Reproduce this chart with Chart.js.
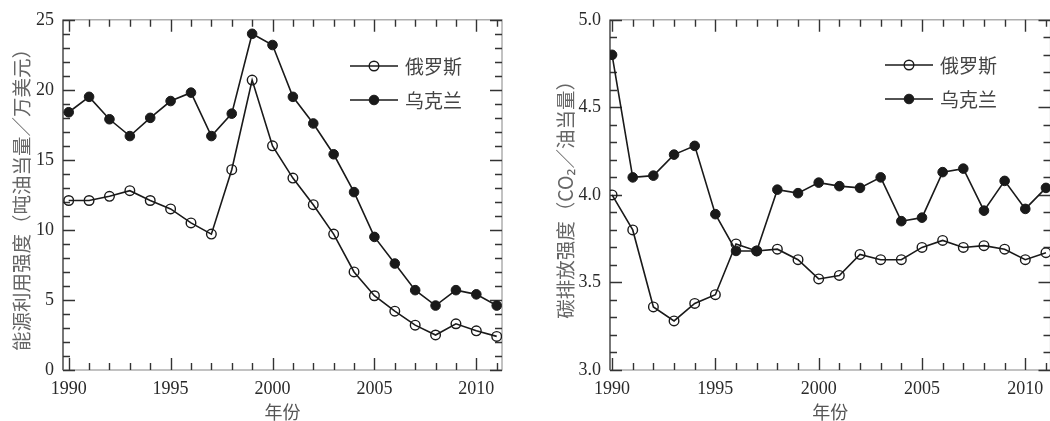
<!DOCTYPE html>
<html>
<head>
<meta charset="utf-8">
<script src="https://cdn.jsdelivr.net/npm/chart.js@4/dist/chart.umd.min.js"></script>
<style>
  html, body { margin: 0; padding: 0; background: #fff; overflow: hidden; width: 1050px; height: 421px; }
  #wrap { position: relative; width: 1050px; height: 421px; overflow: hidden; }
  .panel { position: absolute; top: 0; height: 421px; }
  #p1 { left: 0; width: 530px; }
  #p2 { left: 530px; width: 530px; }
</style>
</head>
<body>
<div id="wrap">
  <div class="panel" id="p1"><canvas id="c1" width="530" height="421"></canvas></div>
  <div class="panel" id="p2"><canvas id="c2" width="530" height="421"></canvas></div>
</div>
<script>
// Years on the horizontal axis
const years = [1990, 1991, 1992, 1993, 1994, 1995, 1996, 1997, 1998, 1999, 2000,
               2001, 2002, 2003, 2004, 2005, 2006, 2007, 2008, 2009, 2010, 2011];

// Energy use intensity (toe per 10,000 USD)
const energyRussia  = [12.1, 12.1, 12.4, 12.8, 12.1, 11.5, 10.5, 9.7, 14.3, 20.7, 16.0,
                       13.7, 11.8, 9.7, 7.0, 5.3, 4.2, 3.2, 2.5, 3.3, 2.8, 2.4];
const energyUkraine = [18.4, 19.5, 17.9, 16.7, 18.0, 19.2, 19.8, 16.7, 18.3, 24.0, 23.2,
                       19.5, 17.6, 15.4, 12.7, 9.5, 7.6, 5.7, 4.6, 5.7, 5.4, 4.6];

// Carbon emission intensity (CO2 per toe)
const carbonRussia  = [4.00, 3.80, 3.36, 3.28, 3.38, 3.43, 3.72, 3.68, 3.69, 3.63, 3.52,
                       3.54, 3.66, 3.63, 3.63, 3.70, 3.74, 3.70, 3.71, 3.69, 3.63, 3.67];
const carbonUkraine = [4.80, 4.10, 4.11, 4.23, 4.28, 3.89, 3.68, 3.68, 4.03, 4.01, 4.07,
                       4.05, 4.04, 4.10, 3.85, 3.87, 4.13, 4.15, 3.91, 4.08, 3.92, 4.04];

// Tick labels
const yearTicks   = [1990, 1995, 2000, 2005, 2010];
const energyTicks = [0, 5, 10, 15, 20, 25];
const carbonTicks = [3.0, 3.5, 4.0, 4.5, 5.0];

// Text
const seriesNames  = ['俄罗斯', '乌克兰'];
const xTitle       = '年份';
const energyTitle  = '能源利用强度（吨油当量／万美元）';
const carbonTitle  = '碳排放强度（CO₂／油当量）';

const SERIF = '"Liberation Serif", "Times New Roman", serif';
const CJK   = '"Noto Sans CJK SC", "Noto Sans", sans-serif';
const INK   = '#1a1a1a';

function pts(vals) { return years.map((yr, i) => ({ x: yr, y: vals[i] })); }

function makeDatasets(russia, ukraine) {
  return [
    {
      label: seriesNames[0], data: pts(russia), order: 1,
      borderColor: INK, borderWidth: 1.6, tension: 0,
      pointStyle: 'circle', pointRadius: 4.8, pointBorderWidth: 1.4,
      pointBorderColor: INK, pointBackgroundColor: 'rgba(0,0,0,0)'
    },
    {
      label: seriesNames[1], data: pts(ukraine), order: 0,
      borderColor: INK, borderWidth: 1.6, tension: 0,
      pointStyle: 'circle', pointRadius: 4.8, pointBorderWidth: 1,
      pointBorderColor: INK, pointBackgroundColor: INK
    }
  ];
}

// Box frame with inward major/minor tick marks on all four sides
const frameTicks = {
  id: 'frameTicks',
  beforeDatasetsDraw(chart, args, o) {
    const { ctx, chartArea: { left, right, top, bottom }, scales: { x, y } } = chart;
    ctx.save();
    ctx.strokeStyle = o.frameColor;
    ctx.lineWidth = 1.2;
    ctx.strokeRect(left, top, right - left, bottom - top);
    ctx.strokeStyle = o.leftColor;
    ctx.lineWidth = 2;
    ctx.beginPath(); ctx.moveTo(left, top); ctx.lineTo(left, bottom); ctx.stroke();
    ctx.strokeStyle = o.tickColor;
    ctx.lineWidth = 1.4;
    const ticksFor = (scale, step, majorStep) => {
      const out = [];
      const i0 = Math.ceil(scale.min / step - 1e-9), i1 = Math.floor(scale.max / step + 1e-9);
      for (let i = i0; i <= i1; i++) {
        const v = +(i * step).toFixed(6);
        const r = v / majorStep;
        out.push({ v, major: Math.abs(r - Math.round(r)) < 1e-6 });
      }
      return out;
    };
    ctx.beginPath();
    ticksFor(x, o.xMinor, o.xMajor).forEach(t => {
      const px = Math.round(x.getPixelForValue(t.v)) + 0.5;
      const len = t.major ? o.majorLen : o.minorLen;
      ctx.moveTo(px, bottom); ctx.lineTo(px, bottom - len);
      ctx.moveTo(px, top);    ctx.lineTo(px, top + len);
    });
    ticksFor(y, o.yMinor, o.yMajor).forEach(t => {
      const py = Math.round(y.getPixelForValue(t.v)) + 0.5;
      const len = t.major ? o.majorLen : o.minorLen;
      ctx.moveTo(left, py);  ctx.lineTo(left + len, py);
      ctx.moveTo(right, py); ctx.lineTo(right - len, py);
    });
    ctx.stroke();
    ctx.restore();
  }
};

// Legend drawn inside the plot area: line sample, marker, name
const innerLegend = {
  id: 'innerLegend',
  afterDatasetsDraw(chart, args, o) {
    const ctx = chart.ctx;
    ctx.save();
    chart.data.datasets.forEach((ds, i) => {
      const yy = o.y + i * o.gap;
      const hollow = ds.pointBackgroundColor === 'rgba(0,0,0,0)';
      ctx.strokeStyle = ds.borderColor;
      ctx.lineWidth = ds.borderWidth;
      ctx.beginPath();
      ctx.moveTo(o.x, yy); ctx.lineTo(o.x + o.len, yy);
      ctx.stroke();
      ctx.beginPath();
      ctx.arc(o.x + o.len / 2, yy, ds.pointRadius, 0, Math.PI * 2);
      if (!hollow) { ctx.fillStyle = ds.pointBackgroundColor; ctx.fill(); }
      ctx.lineWidth = ds.pointBorderWidth;
      ctx.strokeStyle = ds.pointBorderColor;
      ctx.stroke();
      ctx.fillStyle = o.color;
      ctx.font = o.font;
      ctx.textAlign = 'left';
      ctx.textBaseline = 'middle';
      ctx.fillText(ds.label, o.x + o.len + o.textGap, yy + 1);
    });
    ctx.restore();
  }
};

function makeChart(id, cfg) {
  return new Chart(document.getElementById(id), {
    type: 'line',
    data: { datasets: cfg.datasets },
    options: {
      responsive: false,
      animation: false,
      devicePixelRatio: 1,
      layout: { padding: cfg.padding },
      plugins: {
        legend: { display: false },
        tooltip: { enabled: false },
        frameTicks: cfg.frame,
        innerLegend: cfg.legend
      },
      scales: {
        x: {
          type: 'linear', min: cfg.xMin, max: cfg.xMax,
          afterBuildTicks: s => { s.ticks = yearTicks.map(v => ({ value: v })); },
          afterFit: s => { s.height = cfg.xHeight; },
          grid: { display: false, drawTicks: false },
          border: { display: false },
          ticks: {
            autoSkip: false, maxRotation: 0, padding: 8, color: '#2a2a2a',
            font: { family: SERIF, size: 18 },
            callback: v => String(v)
          },
          title: {
            display: true, text: xTitle, color: '#555',
            font: { family: CJK, size: 18, lineHeight: 1 },
            padding: { top: 0, bottom: 0 }
          }
        },
        y: {
          type: 'linear', min: cfg.yMin, max: cfg.yMax,
          afterBuildTicks: s => { s.ticks = cfg.yTicks.map(v => ({ value: v })); },
          afterFit: s => { s.width = cfg.yWidth; },
          grid: { display: false, drawTicks: false },
          border: { display: false },
          ticks: {
            padding: 9, color: '#2a2a2a',
            font: { family: SERIF, size: 18 },
            callback: cfg.yFormat
          },
          title: {
            display: true, text: cfg.yTitle, color: '#666',
            font: { family: CJK, size: 19.5, lineHeight: 1 },
            padding: { top: cfg.yTitlePad, bottom: 0 }
          }
        }
      }
    },
    plugins: [frameTicks, innerLegend]
  });
}

makeChart('c1', {
  datasets: makeDatasets(energyRussia, energyUkraine),
  padding: { top: 18, right: 28, bottom: 0, left: 0 },
  xMin: 1989.72, xMax: 2011.26, xHeight: 51,
  yMin: 0, yMax: 25, yTicks: energyTicks, yWidth: 63,
  yFormat: v => String(v),
  yTitle: energyTitle, yTitlePad: 12,
  frame: { frameColor: '#999', leftColor: '#777', tickColor: '#333', xMinor: 1, xMajor: 5, yMinor: 1, yMajor: 5, majorLen: 12, minorLen: 7 },
  legend: { x: 350, y: 66, gap: 34, len: 48, textGap: 7, font: '19px ' + CJK, color: '#444' }
});

makeChart('c2', {
  datasets: makeDatasets(carbonRussia, carbonUkraine),
  padding: { top: 18, right: 9.5, bottom: 0, left: 0 },
  xMin: 1989.9, xMax: 2011.22, xHeight: 51,
  yMin: 3, yMax: 5, yTicks: carbonTicks, yWidth: 80,
  yFormat: v => Number(v).toFixed(1),
  yTitle: carbonTitle, yTitlePad: 26,
  frame: { frameColor: '#999', leftColor: '#777', tickColor: '#333', xMinor: 1, xMajor: 5, yMinor: 0.1, yMajor: 0.5, majorLen: 12, minorLen: 7 },
  legend: { x: 355, y: 65, gap: 34, len: 48, textGap: 7, font: '19px ' + CJK, color: '#444' }
});
</script>
</body>
</html>
